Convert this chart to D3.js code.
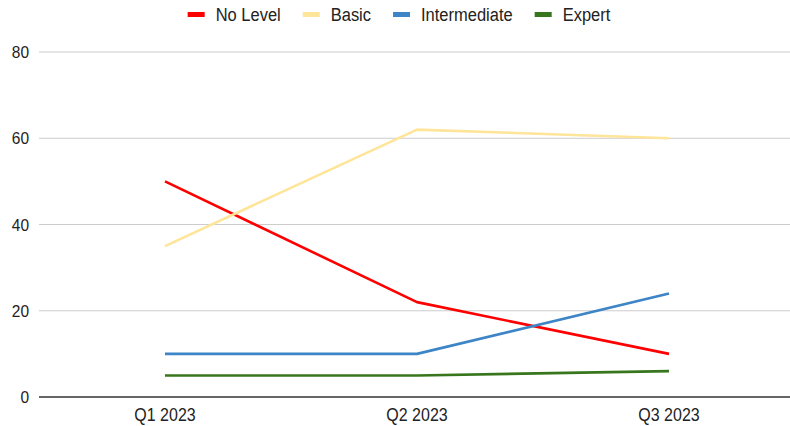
<!DOCTYPE html>
<html>
<head>
<meta charset="utf-8">
<script src="https://cdn.jsdelivr.net/npm/d3@7"></script>
<style>
  html, body { margin: 0; padding: 0; background: #fff; }
  svg { display: block; font-family: "Liberation Sans", Arial, sans-serif; }
</style>
</head>
<body>
<svg id="chart" width="790" height="426"></svg>
<script>
// Quarterly counts by skill level
const quarters = ["Q1 2023", "Q2 2023", "Q3 2023"];
const seriesNames = ["No Level", "Basic", "Intermediate", "Expert"];
const noLevel = [50, 22, 10];
const basic = [35, 62, 60];
const intermediate = [10, 10, 24];
const expert = [5, 5, 6];
const yTicks = [0, 20, 40, 60, 80];
const colors = ["#ff0000", "#ffe599", "#3d85c6", "#38761d"];

(function () {
  const seriesValues = [noLevel, basic, intermediate, expert];
  const series = seriesNames.map((name, i) => ({
    name, color: colors[i],
    values: quarters.map((q, j) => ({ q, v: seriesValues[i][j] }))
  }));

  const svg = d3.select("#chart");
  const W = 790;
  const plot = { left: 39, right: 795, top: 52, bottom: 397 };
  const stretch = "scale(1,1.12)"; // slightly tall glyphs

  const x = d3.scaleBand().domain(quarters).range([plot.left, plot.right]);
  const y = d3.scaleLinear().domain([0, 80]).range([plot.bottom, plot.top]);

  // Horizontal gridlines
  svg.append("g")
    .selectAll("line")
    .data(yTicks.filter(t => t !== 0))
    .join("line")
    .attr("x1", plot.left).attr("x2", W)
    .attr("y1", d => y(d)).attr("y2", d => y(d))
    .attr("stroke", "#cccccc").attr("stroke-width", 1);

  // Y axis labels
  const yAxis = d3.axisLeft(y).tickValues(yTicks).tickSize(0).tickPadding(10);
  const gy = svg.append("g").attr("transform", `translate(${plot.left},0)`).call(yAxis);
  gy.select(".domain").remove();
  gy.selectAll("text")
    .attr("font-size", 15.5)
    .attr("font-family", "Liberation Sans, Arial, sans-serif")
    .attr("fill", "#222")
    .attr("transform", stretch);

  // X axis labels
  const xAxis = d3.axisBottom(x).tickSize(0).tickPadding(10);
  const gx = svg.append("g").attr("transform", `translate(0,${plot.bottom})`).call(xAxis);
  gx.select(".domain").remove();
  gx.selectAll("text")
    .attr("font-size", 16)
    .attr("font-family", "Liberation Sans, Arial, sans-serif")
    .attr("fill", "#222")
    .attr("transform", stretch);

  // Baseline
  svg.append("line")
    .attr("x1", plot.left).attr("x2", W)
    .attr("y1", y(0)).attr("y2", y(0))
    .attr("stroke", "#333333").attr("stroke-width", 1.3);

  // Series lines
  const line = d3.line()
    .x(d => x(d.q) + x.bandwidth() / 2)
    .y(d => y(d.v));

  svg.append("g")
    .selectAll("path")
    .data(series)
    .join("path")
    .attr("d", d => line(d.values))
    .attr("fill", "none")
    .attr("stroke", d => d.color)
    .attr("stroke-width", 2.6)
    .attr("stroke-linejoin", "round");

  // Legend
  const sw = 17, swGap = 11, itemGap = 22;
  const legend = svg.append("g");
  const items = legend.selectAll("g").data(series).join("g");
  items.append("rect")
    .attr("width", sw).attr("height", 5)
    .attr("y", -2.5)
    .attr("fill", d => d.color);
  items.append("text")
    .attr("x", sw + swGap)
    .attr("dy", "0.35em")
    .attr("font-size", 16.5)
    .attr("fill", "#222")
    .attr("transform", "scale(1,1.1)")
    .text(d => d.name);

  let cursor = 0;
  items.each(function () {
    const g = d3.select(this);
    g.attr("transform", `translate(${cursor},0)`);
    const tw = g.select("text").node().getComputedTextLength();
    cursor += sw + swGap + tw + itemGap;
  });
  const totalW = cursor - itemGap;
  legend.attr("transform", `translate(${399 - totalW / 2},14.5)`);
})();
</script>
</body>
</html>
